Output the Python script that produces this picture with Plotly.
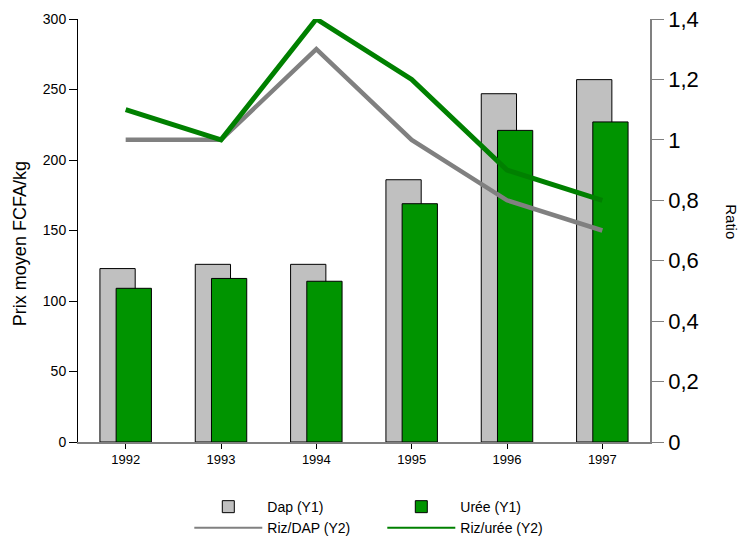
import plotly.graph_objects as go

years = ["1992", "1993", "1994", "1995", "1996", "1997"]
dap = [123, 126, 126, 186, 247, 257]
uree = [109, 116, 114, 169, 221, 227]
riz_dap = [1.0, 1.0, 1.3, 1.0, 0.8, 0.7]
riz_uree = [1.1, 1.0, 1.4, 1.2, 0.9, 0.8]

FONT = "Liberation Sans, Arial, sans-serif"
GRAY_LINE = "#808080"
GREEN_LINE = "#008000"

fig = go.Figure()
fig.add_trace(go.Bar(x=years, y=dap, name="Dap (Y1)", marker=dict(color="#C0C0C0", line=dict(color="#000000", width=1)),
                     width=0.37, offset=-0.27))
fig.add_trace(go.Bar(x=years, y=uree, name="Urée (Y1)", marker=dict(color="#009400", line=dict(color="#000000", width=1)),
                     width=0.37, offset=-0.10))
fig.add_trace(go.Scatter(x=years, y=riz_dap, name="Riz/DAP (Y2)", yaxis="y2", mode="lines",
                         line=dict(color=GRAY_LINE, width=4.5), showlegend=False))
fig.add_trace(go.Scatter(x=years, y=riz_uree, name="Riz/urée (Y2)", yaxis="y2", mode="lines",
                         line=dict(color=GREEN_LINE, width=5), showlegend=False))
# legend entries with thin lines (as in the reference legend)
fig.add_trace(go.Scatter(x=[None], y=[None], name="Riz/DAP (Y2)", yaxis="y2", mode="lines",
                         line=dict(color=GRAY_LINE, width=2)))
fig.add_trace(go.Scatter(x=[None], y=[None], name="Riz/urée (Y2)", yaxis="y2", mode="lines",
                         line=dict(color=GREEN_LINE, width=2)))

fig.update_layout(
    width=745, height=537,
    margin=dict(l=78, r=95, t=19, b=95, autoexpand=False),
    plot_bgcolor="white", paper_bgcolor="white",
    separators=",.",
    barmode="overlay",
    font=dict(family=FONT, color="#000000", size=13),
    showlegend=True,
    legend=dict(orientation="h", x=0.532, xanchor="center", y=-0.116, yanchor="top",
                entrywidth=110, font=dict(size=14), itemwidth=68, tracegroupgap=0),
    xaxis=dict(type="category", range=[-0.5, 5.5], showline=True, linecolor="#808080", linewidth=1.5,
               ticks="outside", ticklen=5, tickcolor="#000000", showgrid=False, tickfont=dict(size=13)),
    yaxis=dict(range=[0, 300], tickvals=[0, 50, 100, 150, 200, 250, 300], showline=True, linecolor="#000000",
               linewidth=1, ticks="outside", ticklen=8, tickcolor="#000000", showgrid=False, zeroline=False,
               tickfont=dict(size=14)),
    yaxis2=dict(range=[0, 1.4], tickvals=[0, 0.2, 0.4, 0.6, 0.8, 1, 1.2, 1.4], overlaying="y", side="right",
                showline=True, linecolor="#808080", linewidth=1.5, ticks="outside", ticklen=12,
                tickcolor="#808080", showgrid=False, zeroline=False, tickfont=dict(size=22)),
    annotations=[
        dict(text="Prix moyen FCFA/kg", xref="paper", yref="paper", x=-0.1015, y=0.47, xanchor="center",
             yanchor="middle", textangle=-90, showarrow=False, font=dict(size=18)),
        dict(text="Ratio", xref="paper", yref="paper", x=1.143, y=0.52, xanchor="center", yanchor="middle",
             textangle=90, showarrow=False, font=dict(size=15)),
    ],
)

fig.write_html("out.html")
